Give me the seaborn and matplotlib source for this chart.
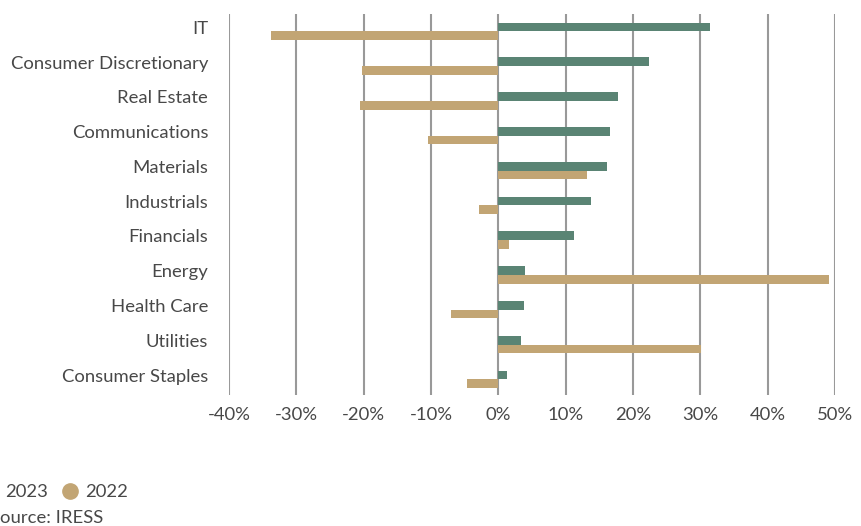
import matplotlib
matplotlib.use("Agg")
import matplotlib.pyplot as plt
from matplotlib.transforms import ScaledTranslation
from matplotlib.lines import Line2D
import seaborn as sns
import pandas as pd

sectors = ["IT", "Consumer Discretionary", "Real Estate", "Communications", "Materials",
           "Industrials", "Financials", "Energy", "Health Care", "Utilities", "Consumer Staples"]
values_2023 = [31.5, 22.4, 17.7, 16.6, 16.2, 13.8, 11.3, 3.9, 3.8, 3.3, 1.3]
values_2022 = [-33.7, -20.3, -20.5, -10.4, 13.1, -2.8, 1.6, 49.1, -7.1, 30.1, -4.6]
years = ["2023", "2022"]
xticks = [-40, -30, -20, -10, 0, 10, 20, 30, 40, 50]
colors = {"2023": "#5A8474", "2022": "#C2A574"}

df = pd.DataFrame({
    "Sector": sectors * 2,
    "Year": ["2023"] * len(sectors) + ["2022"] * len(sectors),
    "Return": values_2023 + values_2022,
})

sns.set_theme(style="white")
plt.rcParams["font.family"] = ["Lato", "DejaVu Sans"]

fig = plt.figure(figsize=(8.62, 5.26), dpi=100)
ax = fig.add_axes([229/862, 1-395/526, (835-229)/862, (395-14)/526])

sns.barplot(data=df, y="Sector", x="Return", hue="Year", hue_order=years,
            order=sectors, palette=colors, orient="h", width=0.5, gap=0,
            saturation=1, ax=ax, legend=False, zorder=3, linewidth=0)

ax.set_xlim(-40, 50)
ax.set_ylim(10.45, -0.5)
ax.set_xticks(xticks)
ax.set_xticklabels([f"{t}%" for t in xticks])
ax.set_xlabel("")
ax.set_ylabel("")
for s in ax.spines.values():
    s.set_visible(False)
ax.grid(axis="x", color="#999999", linewidth=1.5, zorder=0)
ax.grid(axis="y", visible=False)
ax.set_axisbelow(True)
ax.tick_params(axis="both", length=0, labelsize=13.3, labelcolor="#484848")
ax.tick_params(axis="y", pad=15)
ax.tick_params(axis="x", pad=9)
for lab in ax.get_yticklabels():
    lab.set_transform(lab.get_transform() + ScaledTranslation(0, 3/72, fig.dpi_scale_trans))

handles = [Line2D([], [], marker="o", linestyle="", markersize=11, color=colors[y]) for y in years]
fig.legend(handles, years, loc="center left", bbox_to_anchor=(-26/862, 1-492/526), ncol=2,
           frameon=False, fontsize=13.3, handletextpad=0.3, columnspacing=0.7,
           labelcolor="#484848", borderaxespad=0, handlelength=1.0)
fig.text(-10/862, 1-518/526, "Source: IRESS", fontsize=13.3, color="#484848", va="center", ha="left")

fig.savefig("out.png", dpi=100)
